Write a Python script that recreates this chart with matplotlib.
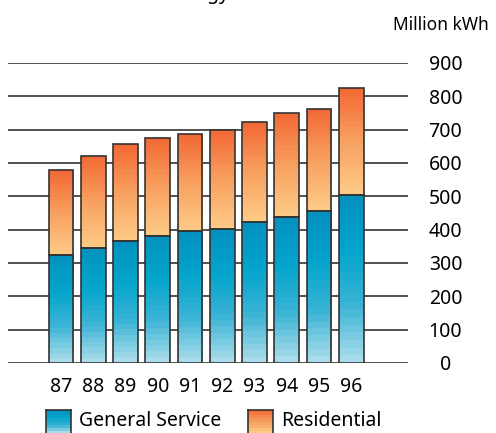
import numpy as np
import matplotlib
matplotlib.use('Agg')
import matplotlib.pyplot as plt
from matplotlib.colors import LinearSegmentedColormap

plt.rcParams['font.family'] = ['Noto Sans', 'DejaVu Sans']

# annual sales, million kWh
years = ['87', '88', '89', '90', '91', '92', '93', '94', '95', '96']
general_service = [325, 345, 367, 382, 396, 402, 423, 438, 455, 505]
total = [579, 622, 658, 676, 686, 698, 722, 749, 762, 826]
residential = [t - g for t, g in zip(total, general_service)]

blue_map = LinearSegmentedColormap.from_list(
    'blue', ['#a8dcea', '#3bb4d6', '#04a5cc', '#0392c0'])
orange_map = LinearSegmentedColormap.from_list(
    'orange', ['#fdca86', '#f8a060', '#f26a35'])

fig = plt.figure(figsize=(4.96, 4.33), dpi=100)
ax = fig.add_axes([8 / 496, 1 - 363 / 433, 400 / 496, 300 / 433])

x = np.arange(len(years))
width = 0.77

# horizontal rules
for v in range(0, 1000, 100):
    ax.axhline(v, color='#222222', lw=1.1, zorder=1)

bars_gs = ax.bar(x, general_service, width, color='none', edgecolor='#333333',
                 lw=1.2, zorder=3)
bars_res = ax.bar(x, residential, width, bottom=general_service, color='none',
                  edgecolor='#333333', lw=1.2, zorder=3)

# banded vertical gradient inside each bar
bands = np.linspace(0, 1, 22).reshape(-1, 1)
for bars, cmap in [(bars_gs, blue_map), (bars_res, orange_map)]:
    for b in bars:
        x0, y0 = b.get_x(), b.get_y()
        im = ax.imshow(bands, cmap=cmap, origin='lower', aspect='auto',
                       interpolation='nearest', zorder=2,
                       extent=[x0, x0 + b.get_width(), y0, y0 + b.get_height()])
        im.set_clip_path(b)

ax.set_xlim(-1.643, 10.76)
ax.set_ylim(0, 900)
for s in ax.spines.values():
    s.set_visible(False)

ax.set_xticks(x)
ax.set_xticklabels(years, fontsize=14)
ax.tick_params(axis='x', length=0, pad=10)

ax.yaxis.tick_right()
ax.set_yticks(range(0, 1000, 100))
ax.tick_params(axis='y', length=0, pad=27, labelsize=14)
for lab in ax.get_yticklabels():
    lab.set_horizontalalignment('center')

fig.text(441 / 496, 1 - 25 / 433, 'Million kWh', ha='center', va='center',
         fontsize=12.5)
fig.text(165 / 496, 1 + 1 / 433, 'Energy Sales', ha='left', va='baseline',
         fontsize=14, fontweight='bold')

# legend swatches
swatch_y = 1 - 434 / 433
for left, cmap, label in [(46, blue_map, 'General Service'),
                          (248, orange_map, 'Residential')]:
    sax = fig.add_axes([left / 496, swatch_y, 25 / 496, 24 / 433])
    sax.imshow(np.linspace(0, 1, 8).reshape(-1, 1), cmap=cmap, origin='lower',
               aspect='auto', interpolation='nearest')
    sax.set_xticks([])
    sax.set_yticks([])
    for s in sax.spines.values():
        s.set_color('#333333')
        s.set_linewidth(1.2)
    fig.text((left + 33) / 496, 1 - 421 / 433, label, ha='left', va='center',
             fontsize=14)

fig.savefig('out.png', dpi=100)
